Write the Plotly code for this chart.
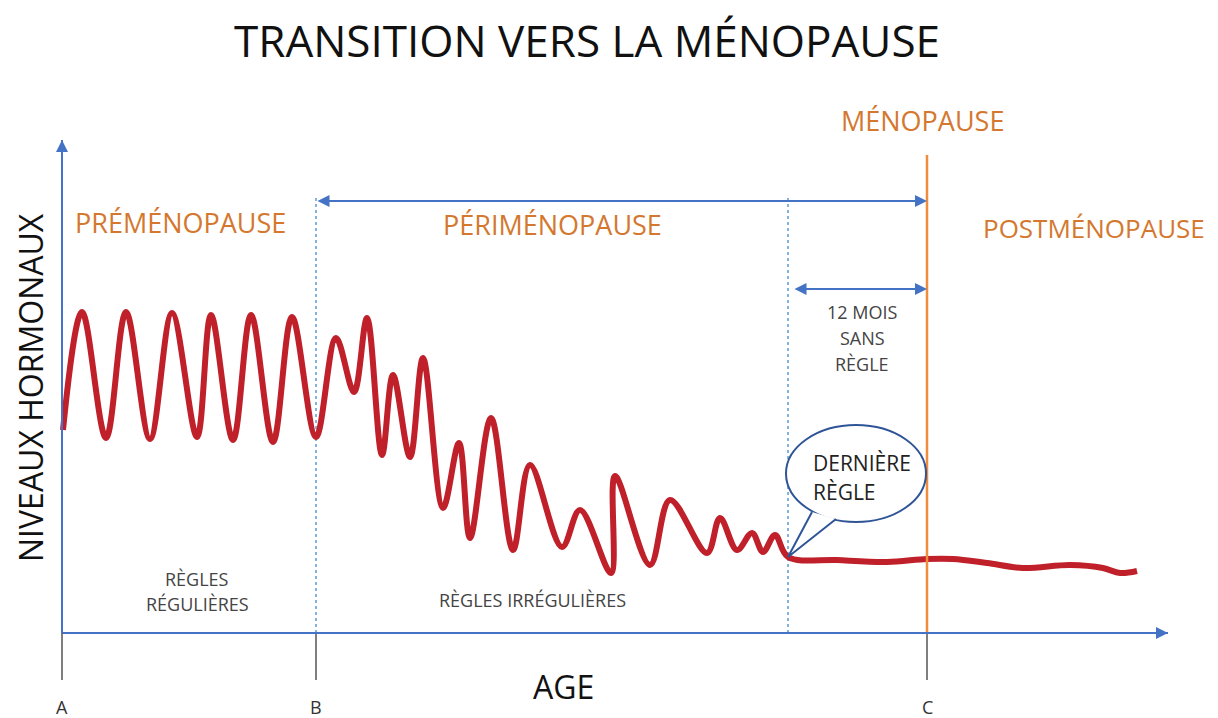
import plotly.graph_objects as go

# Hormone curve (age position along axis, hormone level above axis)
AGE = [1, 20, 44, 64, 88, 110, 135, 149, 171, 189, 211, 230, 254,
       274, 292, 305, 320, 331, 348, 361, 381, 397, 408, 429, 451, 468,
       500, 518, 549, 553, 588, 608, 645, 658, 675, 690, 701, 713, 726,
       775, 825, 865, 891, 925, 961, 1008, 1041, 1058, 1075]
LEVEL = [203, 321, 195, 321, 194, 320, 196, 318, 193, 318, 191, 316, 196,
         295, 241, 315, 178, 258, 176, 275, 125, 190, 95, 215, 83, 168,
         86, 123, 60, 157, 68, 133, 80, 115, 83, 100, 81, 98, 76,
         73, 71, 74, 74, 70, 65, 68, 65, 60, 62]

# Key ages on the axis
MARK_LABELS = ["A", "B", "C"]
MARK_AGES = [0, 254, 865]
LAST_PERIOD_AGE = 726
AXIS_END = 1106
LEVEL_TOP = 493

BLUE = "#4472C4"
LIGHTBLUE = "#5B9BD5"
ORANGE_TXT = "#D4782F"
ORANGE_LINE = "#F08C3C"
RED = "#C0202A"
DARKBLUE = "#2F5597"
FONT = "Open Sans"

fig = go.Figure()
fig.add_trace(go.Scatter(x=AGE, y=LEVEL, mode="lines",
                         line=dict(color=RED, width=6, shape="spline", smoothing=1.0),
                         hoverinfo="skip", showlegend=False))

shapes = []
# axes lines
shapes.append(dict(type="line", x0=0, x1=0, y0=0, y1=LEVEL_TOP, layer="below",
                   line=dict(color=BLUE, width=2)))
shapes.append(dict(type="line", x0=0, x1=AXIS_END, y0=0, y1=0, layer="below",
                   line=dict(color=BLUE, width=2)))
# dotted phase boundaries
for xv in [MARK_AGES[1], LAST_PERIOD_AGE]:
    shapes.append(dict(type="line", x0=xv, x1=xv, y0=0, y1=438, layer="below",
                       line=dict(color=LIGHTBLUE, width=1.5, dash="dot")))
# menopause line
shapes.append(dict(type="line", x0=MARK_AGES[2], x1=MARK_AGES[2], y0=0, y1=478,
                   line=dict(color=ORANGE_LINE, width=2.5)))
# ticks
for xv in MARK_AGES:
    shapes.append(dict(type="line", x0=xv, x1=xv, y0=0, y1=-47,
                       line=dict(color="#555555", width=1.5)))
# speech bubble
shapes.append(dict(type="circle", x0=724, x1=864, y0=111, y1=208,
                   fillcolor="white", line=dict(color=DARKBLUE, width=2)))
shapes.append(dict(type="path", path="M 750 121 L 726 76 L 774 114",
                   fillcolor="white", line=dict(color=DARKBLUE, width=2)))

annotations = []
def arrow(x, y, ax, ay, side="end"):
    annotations.append(dict(x=x, y=y, ax=ax, ay=ay, xref="x", yref="y",
                            axref="x", ayref="y", text="", showarrow=True,
                            arrowhead=2, arrowsize=1.2, arrowwidth=2,
                            arrowcolor=BLUE, arrowside=side))
arrow(0, LEVEL_TOP, 0, 0)
arrow(AXIS_END, 0, 0, 0)
arrow(MARK_AGES[2], 432, MARK_AGES[1], 432, "end+start")
arrow(MARK_AGES[2], 344, 731, 344, "end+start")

def txt(x, y, s, size, color="#222222", **kw):
    d = dict(x=x, y=y, text=s, showarrow=False, xref="x", yref="y",
             font=dict(family=FONT, size=size, color=color))
    d.update(kw)
    annotations.append(d)

txt(525, 593, "TRANSITION VERS LA MÉNOPAUSE", 44, "#111111")
txt(118, 411, "PRÉMÉNOPAUSE", 27, ORANGE_TXT)
txt(490, 409, "PÉRIMÉNOPAUSE", 27, ORANGE_TXT)
txt(860, 513, "MÉNOPAUSE", 27, ORANGE_TXT)
txt(1032, 405, "POSTMÉNOPAUSE", 26, ORANGE_TXT)
txt(-32, 245, "NIVEAUX HORMONAUX", 32, "#111111", textangle=-90)
txt(501, -53, "AGE", 32, "#111111")
for lab, xv in zip(MARK_LABELS, MARK_AGES):
    txt(xv, -74, lab, 18, "#333333")
txt(135, 54, "RÈGLES", 18, "#444444")
txt(135, 29, "RÉGULIÈRES", 18, "#444444")
txt(470, 33, "RÈGLES IRRÉGULIÈRES", 18, "#444444")
txt(800, 321, "12 MOIS", 18, "#444444")
txt(800, 295, "SANS", 18, "#444444")
txt(800, 269, "RÈGLE", 18, "#444444")
txt(749, 170, "DERNIÈRE", 21, "#222222", xanchor="left")
txt(749, 141, "RÈGLE", 21, "#222222", xanchor="left")

fig.update_layout(
    width=1210, height=710, margin=dict(l=0, r=0, t=0, b=0),
    paper_bgcolor="white", plot_bgcolor="white",
    xaxis=dict(range=[-54, 1156], visible=False, fixedrange=True),
    yaxis=dict(range=[-85, 625], visible=False, fixedrange=True),
    shapes=shapes, annotations=annotations, showlegend=False,
)
fig.write_html("out.html")
